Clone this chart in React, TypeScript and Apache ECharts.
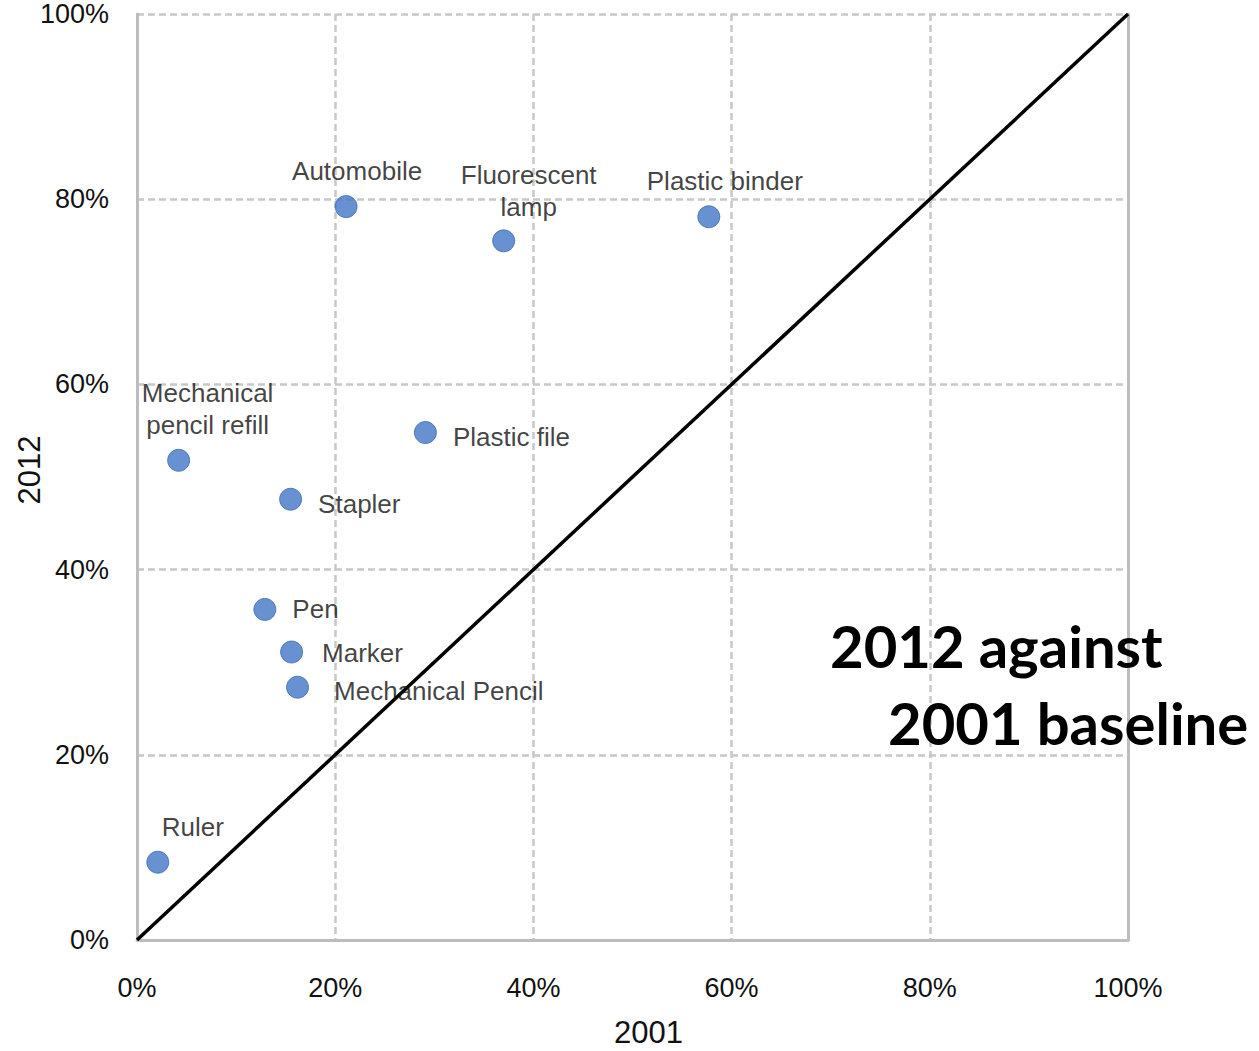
import React, { useEffect, useRef } from "react";
import * as echarts from "echarts";

const names = [
  "Automobile",
  "Fluorescent lamp",
  "Plastic binder",
  "Mechanical pencil refill",
  "Plastic file",
  "Stapler",
  "Pen",
  "Marker",
  "Mechanical Pencil",
  "Ruler",
];
const x2001 = [21.1, 37.0, 57.7, 4.2, 29.1, 15.5, 12.9, 15.6, 16.2, 2.1];
const y2012 = [79.2, 75.5, 78.1, 51.8, 54.8, 47.6, 35.7, 31.1, 27.3, 8.4];
const axisTicks = [0, 20, 40, 60, 80, 100];

// label styling per point (presentation only)
const labelStyle: Record<string, any> = {
  Automobile: { position: "top", offset: [11, 0], text: "Automobile" },
  "Fluorescent lamp": { position: "top", offset: [25, 2], text: "Fluorescent\nlamp" },
  "Plastic binder": { position: "top", offset: [16, 0], text: "Plastic binder" },
  "Mechanical pencil refill": { position: "top", offset: [29, 0], text: "Mechanical\npencil refill" },
  "Plastic file": { position: "right", offset: [8, 4], text: "Plastic file" },
  Stapler: { position: "right", offset: [8, 5], text: "Stapler" },
  Pen: { position: "right", offset: [8, 0], text: "Pen" },
  Marker: { position: "right", offset: [11, 1], text: "Marker" },
  "Mechanical Pencil": { position: "right", offset: [17, 4], text: "Mechanical Pencil" },
  Ruler: { position: "top", offset: [35, 0], text: "Ruler" },
};

export default function App() {
  const ref = useRef<HTMLDivElement>(null);
  useEffect(() => {
    if (!ref.current) return;
    const chart = echarts.init(ref.current, undefined, { renderer: "svg" });
    const font = "'Liberation Sans', Arial, sans-serif";
    const data = names.map((n, i) => {
      const ls = labelStyle[n];
      return {
        name: n,
        value: [x2001[i], y2012[i]],
        label: {
          show: true,
          position: ls.position,
          offset: ls.offset,
          formatter: ls.text,
          distance: 8,
          color: "#111111",
          fontSize: 26,
          fontFamily: font,
          lineHeight: 32,
        },
      };
    });
    const grid = { color: "#c8c8c8", type: [7, 4], width: 2.5 };
    chart.setOption({
      animation: false,
      backgroundColor: "#ffffff",
      grid: {
        left: 137,
        top: 14,
        right: 131,
        bottom: 111,
        containLabel: false,
        outerBoundsMode: "none",
      },
      xAxis: {
        type: "value",
        min: axisTicks[0],
        max: axisTicks[axisTicks.length - 1],
        interval: 20,
        name: "2001",
        nameLocation: "middle",
        nameGap: 77,
        nameTextStyle: { fontSize: 31, color: "#111111", fontFamily: font, padding: [0, 0, 0, 32] },
        axisLine: { show: true, lineStyle: { color: "#bdbdbd", width: 3 } },
        axisTick: { show: false },
        axisLabel: {
          formatter: "{value}%",
          fontSize: 27,
          color: "#111111",
          fontFamily: font,
          margin: 34,
        },
        splitLine: { show: true, lineStyle: grid },
      },
      yAxis: [
        {
          type: "value",
          min: axisTicks[0],
          max: axisTicks[axisTicks.length - 1],
          interval: 20,
          name: "2012",
          nameLocation: "middle",
          nameGap: 92,
          nameMoveOverlap: false,
          nameTextStyle: { fontSize: 31, color: "#111111", fontFamily: font, padding: [0, 0, 0, 14] },
          axisLine: { show: true, lineStyle: { color: "#bdbdbd", width: 3 } },
          axisTick: { show: false },
          axisLabel: {
            formatter: "{value}%",
            fontSize: 27,
            color: "#111111",
            fontFamily: font,
            margin: 28,
          },
          splitLine: { show: true, lineStyle: grid },
        },
        {
          type: "value",
          position: "right",
          min: 0,
          max: 100,
          interval: 20,
          axisLine: { show: true, lineStyle: { color: "#bdbdbd", width: 3 } },
          axisTick: { show: false },
          axisLabel: { show: false },
          splitLine: { show: false },
        },
      ],
      series: [
        {
          type: "line",
          data: [
            [axisTicks[0], axisTicks[0]],
            [axisTicks[axisTicks.length - 1], axisTicks[axisTicks.length - 1]],
          ],
          symbol: "none",
          lineStyle: { color: "#000000", width: 3.5 },
          z: 3,
          silent: true,
        },
        {
          type: "scatter",
          data,
          symbolSize: 22,
          itemStyle: { color: "#4176c6", borderColor: "#3a6ab5", borderWidth: 1 },
          z: 4,
        },
      ],
      graphic: [
        {
          type: "text",
          left: 830,
          top: 616,
          style: {
            text: "2012 against",
            font: "bold 58px Lato, 'Open Sans', sans-serif",
            fill: "#000",
          },
          z: 10,
        },
        {
          type: "text",
          left: 888,
          top: 693,
          style: {
            text: "2001 baseline",
            font: "bold 58px Lato, 'Open Sans', sans-serif",
            fill: "#000",
          },
          z: 10,
        },
      ],
    });
    return () => chart.dispose();
  }, []);
  return (
    <div
      ref={ref}
      style={{ position: "fixed", left: 0, top: 0, width: 1259, height: 1051 }}
    />
  );
}
